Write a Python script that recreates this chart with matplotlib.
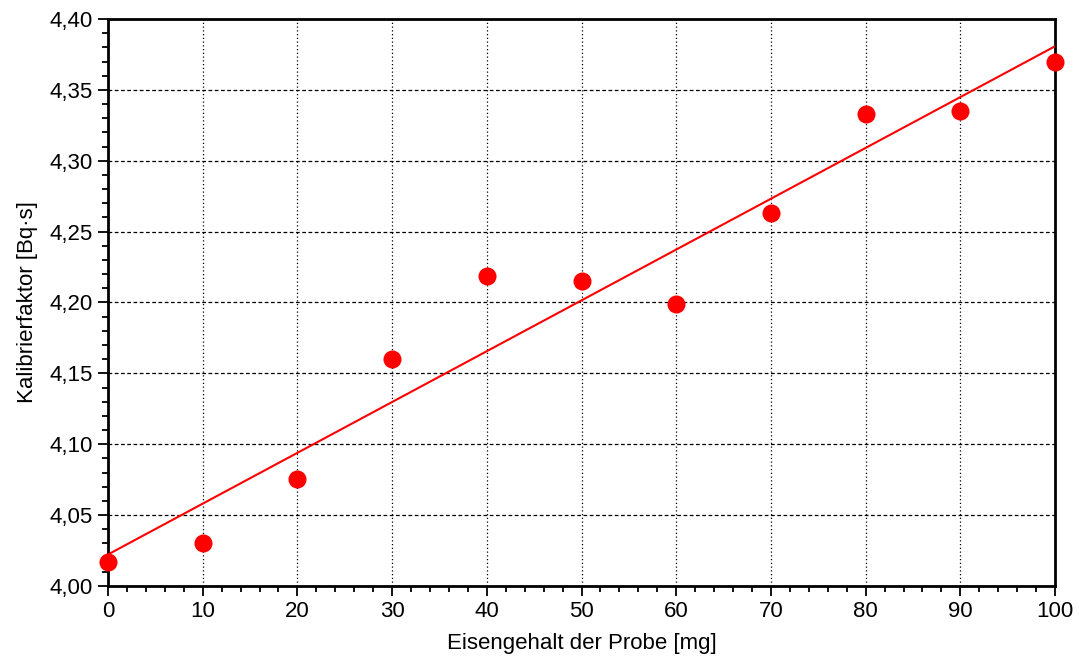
import numpy as np
import matplotlib.pyplot as plt
from matplotlib.ticker import MultipleLocator, FuncFormatter

plt.rcParams['font.family'] = ['Liberation Sans', 'DejaVu Sans']

# Messwerte
eisen_mg = [0, 10, 20, 30, 40, 50, 60, 70, 80, 90, 100]
kalibrier = [4.017, 4.030, 4.0755, 4.160, 4.219, 4.215, 4.199, 4.263, 4.333, 4.335, 4.370]

# lineare Regression
m, b = np.polyfit(eisen_mg, kalibrier, 1)
xfit = np.array([0, 100])

fig = plt.figure(figsize=(10.79, 6.66), dpi=100)
ax = fig.add_axes([0.1001, 0.1201, 0.8777, 0.8514])

ax.plot(xfit, m * xfit + b, color='#ff0000', lw=1.5, zorder=3)
ax.plot(eisen_mg, kalibrier, 'o', color='#ff0000', ms=13, mec='none', zorder=4, clip_on=False)

ax.set_xlim(0, 100)
ax.set_ylim(4.0, 4.4)
ax.xaxis.set_major_locator(MultipleLocator(10))
ax.xaxis.set_minor_locator(MultipleLocator(2))
ax.yaxis.set_major_locator(MultipleLocator(0.05))
ax.yaxis.set_minor_locator(MultipleLocator(0.01))
ax.yaxis.set_major_formatter(FuncFormatter(lambda v, p: f"{v:.2f}".replace('.', ',')))

ax.tick_params(which='major', direction='out', length=7, width=1.3, labelsize=16, pad=4)
ax.tick_params(which='minor', direction='out', length=4, width=1.3)
for s in ax.spines.values():
    s.set_linewidth(2)

ax.xaxis.grid(True, which='major', ls=(0, (1, 2)), color='black', lw=0.9)
ax.yaxis.grid(True, which='major', ls=(0, (3, 2)), color='black', lw=0.9)
ax.set_axisbelow(True)

ax.set_xlabel('Eisengehalt der Probe [mg]', fontsize=16, labelpad=8)
ax.set_ylabel('Kalibrierfaktor [Bq·s]', fontsize=16, labelpad=8)

plt.savefig('out.png', dpi=100)
